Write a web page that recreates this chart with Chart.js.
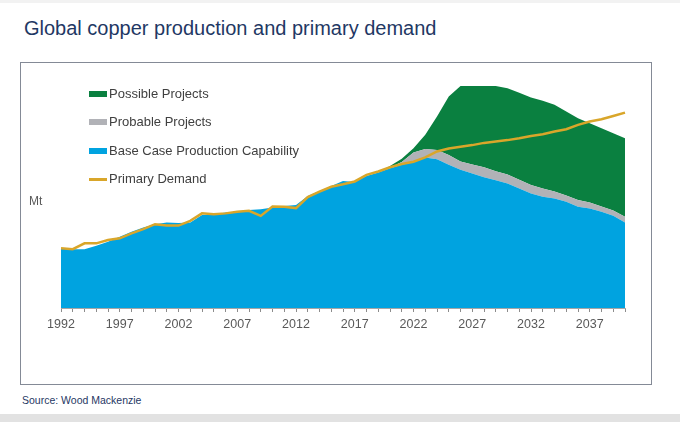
<!DOCTYPE html>
<html>
<head>
<meta charset="utf-8">
<title>Global copper production and primary demand</title>
<script src="https://cdn.jsdelivr.net/npm/chart.js@4/dist/chart.umd.min.js"></script>
<style>
    html, body { margin: 0; padding: 0; background: #fff; }
    body { width: 680px; height: 422px; position: relative; overflow: hidden;
           font-family: "Liberation Sans", Arial, sans-serif; }
    .top-band { position: absolute; left: 0; top: 0; width: 680px; height: 3px; background: #f2f2f2; }
    .bottom-band { position: absolute; left: 0; top: 414px; width: 680px; height: 8px; background: #e2e2e2; }
    .title { position: absolute; left: 24px; top: 18px; font-size: 20px; line-height: 20px; color: #1f3864; }
    .frame { position: absolute; left: 20px; top: 62px; width: 632px; height: 323px;
             box-sizing: border-box; border: 1.5px solid #848a96; }
    .chart-wrap { position: absolute; left: 20px; top: 62px; width: 632px; height: 323px; }
    .unit { position: absolute; left: 29px; top: 195px; font-size: 12px; line-height: 12px; color: #595959; }
    .legend { position: absolute; left: 89px; top: 84px; }
    .legend-item { position: relative; height: 28.4px; font-size: 13px; line-height: 20px; color: #404040; }
    .legend-item .swatch { position: absolute; left: 0; top: 7px; width: 18px; height: 6px; }
    .legend-item .swatch.line { top: 9px; height: 2.5px; }
    .legend-item .text { position: absolute; left: 20px; top: 0; white-space: nowrap; }
    .source { position: absolute; left: 22px; top: 394px; font-size: 10.5px; line-height: 12px; color: #1f3864; }
</style>
</head>
<body>
<div class="top-band"></div>
<div class="title">Global copper production and primary demand</div>
<div class="frame"></div>
<div class="chart-wrap"><canvas id="copperChart"></canvas></div>
<div class="unit">Mt</div>
<div class="legend" id="legend"></div>
<div class="source">Source: Wood Mackenzie</div>
<div class="bottom-band"></div>

<script>
'use strict';

// Years on the category axis
const years = [];
for (let y = 1992; y <= 2040; y++) years.push(String(y));

// Base case production capability (Mt)
const baseCase = [
    10.75, 10.6, 10.6, 11.2, 11.95, 12.85, 13.75, 14.5, 15.1, 15.4,
    15.3, 15.4, 16.75, 16.9, 17.2, 17.35, 17.65, 17.8, 18.1, 18.4,
    18.55, 20.2, 21.1, 22.0, 22.9, 22.7, 23.8, 24.4, 25.2, 25.8,
    26.35, 27.1, 26.8, 25.8, 24.9, 24.25, 23.55, 23.0, 22.45, 21.55,
    20.65, 20.05, 19.75, 19.15, 18.25, 17.95, 17.35, 16.6, 15.4
];

// Probable projects, stacked on top of base case (Mt)
const probable = [
    0, 0, 0, 0, 0, 0, 0, 0, 0, 0,
    0, 0, 0, 0, 0, 0, 0, 0, 0, 0,
    0, 0, 0, 0, 0, 0, 0, 0, 0.1, 0.5,
    1.65, 1.55, 1.65, 1.75, 1.5, 1.6, 1.8, 1.65, 1.6, 1.55,
    1.5, 1.5, 1.25, 1.1, 1.2, 1.05, 0.95, 0.95, 1.05
];

// Possible projects, stacked on top of probable (Mt)
const possible = [
    0, 0, 0, 0, 0, 0, 0, 0, 0, 0,
    0, 0, 0, 0, 0, 0, 0, 0, 0, 0,
    0, 0, 0, 0, 0, 0, 0, 0, 0.3, 0.6,
    0.8, 2.55, 6.05, 10.55, 13.6, 14.15, 14.65, 15.35, 15.55, 15.7,
    15.8, 15.8, 15.6, 15.15, 14.75, 14.3, 14.1, 13.95, 14.15
];

// Primary demand (Mt)
const demand = [
    10.75, 10.6, 11.65, 11.65, 12.25, 12.55, 13.45, 14.2, 15.1, 14.85,
    14.85, 15.7, 17.05, 16.9, 17.05, 17.35, 17.5, 16.6, 18.3, 18.25,
    18.0, 20.0, 20.95, 21.85, 22.3, 22.8, 24.0, 24.6, 25.35, 25.95,
    26.35, 27.15, 28.2, 28.75, 29.05, 29.35, 29.75, 30.0, 30.25, 30.6,
    31.0, 31.3, 31.8, 32.2, 33.0, 33.6, 34.0, 34.6, 35.2
];

const COLORS = {
    possible: '#0a8040',
    probable: '#b1b2b7',
    base: '#00a3e0',
    demand: '#d9a62a'
};

const FONT = '"Liberation Sans", Arial, sans-serif';

/**
 * Area dataset helper for the stacked production series
 */
function areaDataset(label, data, color, fill) {
    return {
        label: label,
        data: data,
        backgroundColor: color,
        borderColor: color,
        borderWidth: 0,
        pointRadius: 0,
        tension: 0,
        fill: fill
    };
}

const ctx = document.getElementById('copperChart');

const chart = new Chart(ctx, {
    type: 'line',
    data: {
        labels: years,
        datasets: [
            {
                label: 'Primary Demand',
                data: demand,
                borderColor: COLORS.demand,
                backgroundColor: COLORS.demand,
                borderWidth: 2.5,
                pointRadius: 0,
                tension: 0,
                fill: false,
                stack: 'demand',
                legendType: 'line'
            },
            areaDataset('Base Case Production Capability', baseCase, COLORS.base, 'origin'),
            areaDataset('Probable Projects', probable, COLORS.probable, '-1'),
            areaDataset('Possible Projects', possible, COLORS.possible, '-1')
        ]
    },
    options: {
        responsive: true,
        maintainAspectRatio: false,
        animation: false,
        layout: {
            padding: { left: 41, right: 27, top: 24, bottom: 37 }
        },
        plugins: {
            legend: { display: false },
            tooltip: { enabled: false }
        },
        scales: {
            x: {
                offset: false,
                grid: {
                    display: true,
                    drawOnChartArea: false,
                    drawTicks: true,
                    tickLength: 4,
                    tickColor: '#8c8c8c'
                },
                border: { display: true, color: '#a6a6a6', width: 1 },
                ticks: {
                    autoSkip: false,
                    maxRotation: 0,
                    padding: 5,
                    color: '#595959',
                    font: { family: FONT, size: 12.5 },
                    callback: function(value, index) {
                        return (index % 5 === 0) ? years[index] : '';
                    }
                },
                afterFit: function(scale) {
                    scale.height = 40;
                }
            },
            y: {
                display: false,
                stacked: true,
                min: 0,
                max: 40
            }
        }
    }
});

// HTML legend, in the order of the reference
function buildLegend(chart) {
    const order = ['Possible Projects', 'Probable Projects', 'Base Case Production Capability', 'Primary Demand'];
    const box = document.getElementById('legend');
    order.forEach(name => {
        const ds = chart.data.datasets.find(d => d.label === name);
        if (!ds) return;
        const item = document.createElement('div');
        item.className = 'legend-item';
        const sw = document.createElement('span');
        sw.className = 'swatch' + (ds.legendType === 'line' ? ' line' : '');
        sw.style.background = ds.borderColor;
        const tx = document.createElement('span');
        tx.className = 'text';
        tx.textContent = ds.label;
        item.appendChild(sw);
        item.appendChild(tx);
        box.appendChild(item);
    });
}

buildLegend(chart);
</script>
</body>
</html>
